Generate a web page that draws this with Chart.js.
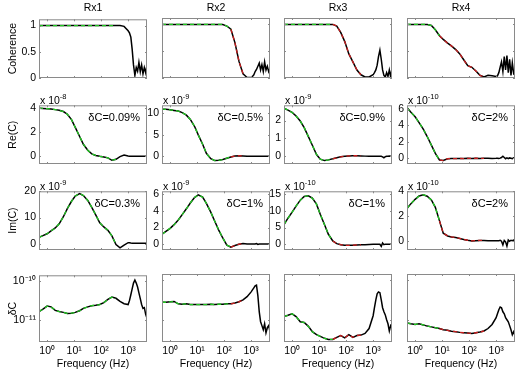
<!DOCTYPE html>
<html>
<head>
<meta charset="utf-8">
<script src="https://cdn.jsdelivr.net/npm/chart.js@4.4.0/dist/chart.umd.min.js"></script>
<style>
body{margin:0;background:#fff;font-family:"Liberation Sans",Arial,sans-serif;font-size:10.5px;}
#fig{position:relative;width:520px;height:373px;overflow:hidden;background:#fff;}
#fig canvas{position:absolute;}
.lbl{position:absolute;white-space:nowrap;color:#000;line-height:12px;}
.lbl sup{font-size:7.5px;}
</style>
</head>
<body>
<div id="fig"></div>
<script>
// frequency (Hz), shared by all panels
const freq = [0.5,0.7,1,1.4,2,2.8,4,5.6,8,11, 16,22,32,45,63,89,126,178,251,355, 501,708,
  1000,1120,1260,1410,1580,1780,2000,2240,2510,2820, 3160,3550,3980,4470,5000];

// coherence
const coh1 = [1,1,1,1,1,1,1,1,1,1, 1,1,1,1,1,1,1,1,1,1, 1,0.985, 0.9,0.86,0.78,0.55,0.25,0.05,0.2,0.13,0.3,0.12, 0.25,0.08,0.2,0.1,0.25];
const coh2 = [1,1,1,1,1,1,1,1,1,1, 1,1,1,1,1,1,0.97,0.91,0.66,0.31, 0.08,0.01, 0.01,0.03,0.06,0.12,0.16,0.22,0.28,0.15,0.25,0.12, 0.3,0.15,0.22,0.12,0.18];
const coh3 = [1,1,1,1,1,1,1,1,1,1, 1,1,1,0.97,0.85,0.68,0.45,0.3,0.15,0.06, 0.02,0.02, 0.06,0.1,0.15,0.24,0.4,0.52,0.35,0.15,0.05,0.02, 0.1,0.03,0.15,0.02,0.18];
const coh4 = [1,1,1,1,1,1,0.98,0.9,0.79,0.72, 0.65,0.6,0.53,0.45,0.34,0.23,0.2,0.13,0.05,0.02, 0.05,0.04, 0.03,0.04,0.1,0.2,0.3,0.12,0.4,0.15,0.42,0.1, 0.35,0.05,0.28,0.08,0.1];

// Re(C), in units of the exponent shown above each panel
const re1 = [4.0,3.98,3.96,3.93,3.88,3.82,3.72,3.5,3.05,2.4, 1.65,1.0,0.5,0.2,0.07,0,-0.05,-0.13,-0.33,-0.25, -0.03,0.1, 0.03,0.01,0,0,0.01,0,0,0,0.01,0, 0,0,0.01,0,0];
const re2 = [11.0,10.95,10.85,10.7,10.55,10.2,9.6,8.6,7.0,5.0, 2.8,0.7,-0.55,-1.0,-0.95,-0.75,-0.45,-0.15,0.05,0.15, 0.08,0, 0.02,0,0.03,0,0.02,0,0.03,0,0.02,0, 0.02,0,0,0.03,0];
const re3 = [2.69,2.58,2.45,2.25,1.97,1.6,1.1,0.62,0.1,-0.16, -0.24,-0.2,-0.14,-0.08,-0.03,0,0.02,0.03,0.03,0.02, 0.01,0, 0,0,0,0,0,0,0,-0.03,-0.08,-0.02, 0,0,0.01,0,0];
const re4 = [6.17,5.6,5.05,4.35,3.55,2.65,1.6,0.6,-0.2,-0.27, -0.05,-0.03,-0.03,-0.02,-0.03,0,-0.02,0.01,-0.02,0, 0.01,-0.02, 0,0.02,-0.03,0.02,0.1,0.25,0.1,-0.05,0.05,-0.05, 0.05,0,-0.05,0.05,0];

// Im(C)
const im1 = [2.4,3.1,3.8,4.9,6.0,7.6,10.3,13.4,16.2,18.2, 19.1,18.4,16.5,13.9,11.0,8.0,6.4,5.1,3.0,-0.3, -1.6,-0.5, 0.4,0.35,0.25,0.2,0.2,0.15,0.2,0.2,0.15,0.2, 0.2,0.15,0.2,0.2,0.2];
const im2 = [1.2,1.55,1.9,2.35,2.9,3.55,4.25,4.95,5.6,5.92, 5.65,4.9,3.85,2.75,1.7,0.75,-0.1,-0.35,-0.15,0, 0.08,0.03, 0.03,0.02,0.03,0.03,0.08,-0.03,0.03,0.02,0.03,0.02, 0.02,0.03,0.02,0.02,0.02];
const im3 = [5.9,7.8,9.6,11.4,13.2,14.3,14.5,13.8,12.0,9.0, 5.8,3.0,1.0,0.2,-0.1,-0.3,-0.3,-0.25,-0.2,-0.15, -0.1,-0.05, 0,0,0,0,0,0,-0.6,0.4,-0.1,0.05, 0,0,0,0,0];
const im4 = [2.6,3.0,3.35,3.62,3.72,3.6,3.3,2.7,1.6,0.6, 0.38,0.3,0.25,0.18,0.1,0.03,-0.02,0,0.02,0.02, 0,0, 0,0,0,0.03,-0.05,-0.35,0.02,-0.1,-0.45,0.05, -0.05,0.03,0,0.05,0.02];

// deltaC, in units of 1e-11
const dc1 = [1.66,1.91,2.29,2.19,1.78,1.66,1.58,1.48,1.51,1.58, 1.74,2.0,2.19,2.34,2.4,2.51,2.82,3.39,3.89,3.63, 3.02,2.63, 2.51,3.16,4.47,6.31,8.91,10.7,8.91,7.08,5.01,3.55, 2.51,2.0,2.09,1.41,1.12];
const dc2 = [2.75,2.75,2.82,2.88,2.51,2.45,2.51,2.4,2.4,2.4, 2.4,2.4,2.45,2.4,2.45,2.45,2.51,2.51,2.63,2.82, 3.16,3.8, 5.01,5.62,6.31,7.08,7.41,3.98,1.58,0.89,0.71,0.56, 0.79,0.47,0.63,0.71,0.5];
const dc3 = [1.2,1.29,1.41,1.2,0.89,0.85,0.68,0.5,0.42,0.38, 0.34,0.32,0.32,0.36,0.4,0.35,0.42,0.36,0.4,0.41, 0.45,0.6, 1.26,2.0,3.16,4.47,5.01,4.79,3.16,2.0,1.58,1.32, 1.0,0.79,0.52,0.71,0.63];
const dc4 = [0.83,0.79,0.76,0.79,0.74,0.69,0.66,0.63,0.6,0.56, 0.54,0.51,0.5,0.48,0.47,0.46,0.45,0.47,0.49,0.52, 0.6,0.76, 1.12,1.41,1.78,2.09,2.0,1.58,1.41,1.12,1.0,0.89, 0.71,0.56,0.42,0.5,0.4];

// last index of the green (fit) part and of the red part, per receiver
const greenEnd = [19, 17, 12, 8];
const redEnd = [19, 20, 19, 19];

const xTicks = [1, 10, 100, 1000];
const xLabels = ['10\u2070', '10\u00b9', '10\u00b2', '10\u00b3'];

const colNames = ['Rx1', 'Rx2', 'Rx3', 'Rx4'];
const yTitles = ['Coherence', 'Re(C)', 'Im(C)', '\u03b4C'];
const expo = [null, ['-8', '-9', '-9', '-10'], ['-9', '-9', '-10', '-10'], null];
const dcText = [null,
  ['\u03b4C=0.09%', '\u03b4C=0.5%', '\u03b4C=0.9%', '\u03b4C=2%'],
  ['\u03b4C=0.3%', '\u03b4C=1%', '\u03b4C=1%', '\u03b4C=2%'], null];

const yRange = [
  [[0, 1.12], [0, 1.12], [0, 1.12], [0, 1.12]],
  [[-0.64, 4.24], [-1.8, 11.9], [-0.43, 2.85], [-0.69, 6.45]],
  [[-2.4, 20], [-0.69, 6.35], [-1.7, 15.85], [-0.76, 4.0]],
  [[0.275, 14.1], [0.275, 14.1], [0.275, 14.1], [0.275, 14.1]]
];
const yTicks = [
  [[0, 0.5, 1], [0, 0.5, 1], [0, 0.5, 1], [0, 0.5, 1]],
  [[0, 2, 4], [0, 5, 10], [0, 1, 2], [0, 2, 4, 6]],
  [[0, 10, 20], [0, 2, 4, 6], [0, 5, 10, 15], [0, 2, 4]],
  [[1, 10], [1, 10], [1, 10], [1, 10]]
];

const rows = [[coh1, coh2, coh3, coh4], [re1, re2, re3, re4], [im1, im2, im3, im4], [dc1, dc2, dc3, dc4]];

// layout of the 4x4 grid
const colLeft = [39, 162, 284, 407];
const rowTop = [18, 104, 190, 274];
const panelW = 108, panelH = 68;
const yw = [39, 30, 30, 30];

Chart.defaults.font.family = '"Liberation Sans", Arial, sans-serif';
Chart.defaults.font.size = 10.5;
Chart.defaults.color = '#000';

const fig = document.getElementById('fig');

// grey box with small inward ticks, like the matlab axes
const frame = {
  id: 'frame',
  afterDatasetsDraw(chart) {
    const a = chart.chartArea, ctx = chart.ctx;
    const xs = chart.scales.x, ys = chart.scales.y;
    ctx.save();
    ctx.strokeStyle = '#8a8a8a';
    ctx.lineWidth = 1;
    ctx.beginPath();
    xTicks.forEach(v => {
      const px = Math.round(xs.getPixelForValue(v)) + 0.5;
      ctx.moveTo(px, a.bottom); ctx.lineTo(px, a.bottom - 2);
      ctx.moveTo(px, a.top); ctx.lineTo(px, a.top + 2);
    });
    ys.ticks.forEach(t => {
      const py = Math.round(ys.getPixelForValue(t.value)) + 0.5;
      ctx.moveTo(a.left, py); ctx.lineTo(a.left + 2, py);
      ctx.moveTo(a.right, py); ctx.lineTo(a.right - 2, py);
    });
    ctx.stroke();
    ctx.strokeRect(a.left + 0.5, a.top + 0.5, a.right - a.left - 1, a.bottom - a.top - 1);
    ctx.restore();
  }
};

function sets(vals, c) {
  const g = vals.map((v, i) => i <= greenEnd[c] ? v : null);
  const r = vals.map((v, i) => (i >= greenEnd[c] && i <= redEnd[c]) ? v : null);
  return [
    {data: g, borderColor: '#22c822', borderDash: [4, 3], borderWidth: 1.3},
    {data: r, borderColor: '#c81e1e', borderDash: [4, 3], borderWidth: 1.3},
    {data: vals, borderColor: '#000'}
  ];
}

function label(html, css) {
  const d = document.createElement('div');
  d.className = 'lbl';
  d.innerHTML = html;
  Object.assign(d.style, css);
  fig.appendChild(d);
}

function makePanel(r, c) {
  const last = r === 3;
  const cv = document.createElement('canvas');
  cv.width = yw[c] + panelW + 4;
  cv.height = last ? 373 - (rowTop[r] - 8) : panelH + 16;
  cv.style.left = (colLeft[c] - yw[c]) + 'px';
  cv.style.top = (rowTop[r] - 8) + 'px';
  fig.appendChild(cv);

  const showY = r === 1 || r === 2 || c === 0;
  new Chart(cv, {
    type: 'line',
    data: {labels: freq, datasets: sets(rows[r][c], c)},
    options: {
      responsive: false,
      animation: false,
      devicePixelRatio: 1,
      layout: {padding: {top: 8, bottom: last ? 0 : 8, left: 0, right: 4}},
      plugins: {legend: {display: false}, tooltip: {enabled: false}},
      elements: {point: {radius: 0}, line: {borderWidth: 1.5, tension: 0}},
      scales: {
        x: {
          type: 'logarithmic', min: 0.5, max: 5000, bounds: 'data',
          display: last,
          afterBuildTicks: s => { s.ticks = xTicks.map(v => ({value: v})); },
          afterFit: s => { s.height = cv.height - panelH - 8; },
          grid: {display: false, drawTicks: false},
          border: {display: false},
          ticks: {padding: 3, maxRotation: 0, autoSkip: false,
            callback: v => xLabels[xTicks.indexOf(v)]},
          title: {display: true, text: 'Frequency (Hz)', padding: {top: 0, bottom: 3}}
        },
        y: {
          type: last ? 'logarithmic' : 'linear',
          min: yRange[r][c][0], max: yRange[r][c][1], bounds: 'data',
          afterBuildTicks: s => { s.ticks = yTicks[r][c].map(v => ({value: v})); },
          afterFit: s => { s.width = yw[c]; },
          grid: {display: false, drawTicks: false},
          border: {display: false},
          ticks: {display: showY, padding: 3, autoSkip: false,
            callback: v => last ? (v >= 10 ? '10\u207b\u00b9\u2070' : '10\u207b\u00b9\u00b9') : String(v)},
          title: {display: c === 0, text: yTitles[r], padding: {top: 7, bottom: 0}}
        }
      }
    },
    plugins: [frame]
  });

  if (r === 0) {
    label(colNames[c], {left: colLeft[c] + 'px', width: panelW + 'px', textAlign: 'center', top: '1px'});
  }
  if (expo[r]) {
    label('x 10<sup>' + expo[r][c] + '</sup>', {left: (colLeft[c] + 1) + 'px', top: (rowTop[r] - 13) + 'px'});
  }
  if (dcText[r]) {
    label(dcText[r][c], {right: (520 - (colLeft[c] + panelW - 7)) + 'px', top: (rowTop[r] + 7) + 'px', fontSize: '11px'});
  }
}

for (let r = 0; r < 4; r++) {
  for (let c = 0; c < 4; c++) makePanel(r, c);
}
</script>
</body>
</html>
